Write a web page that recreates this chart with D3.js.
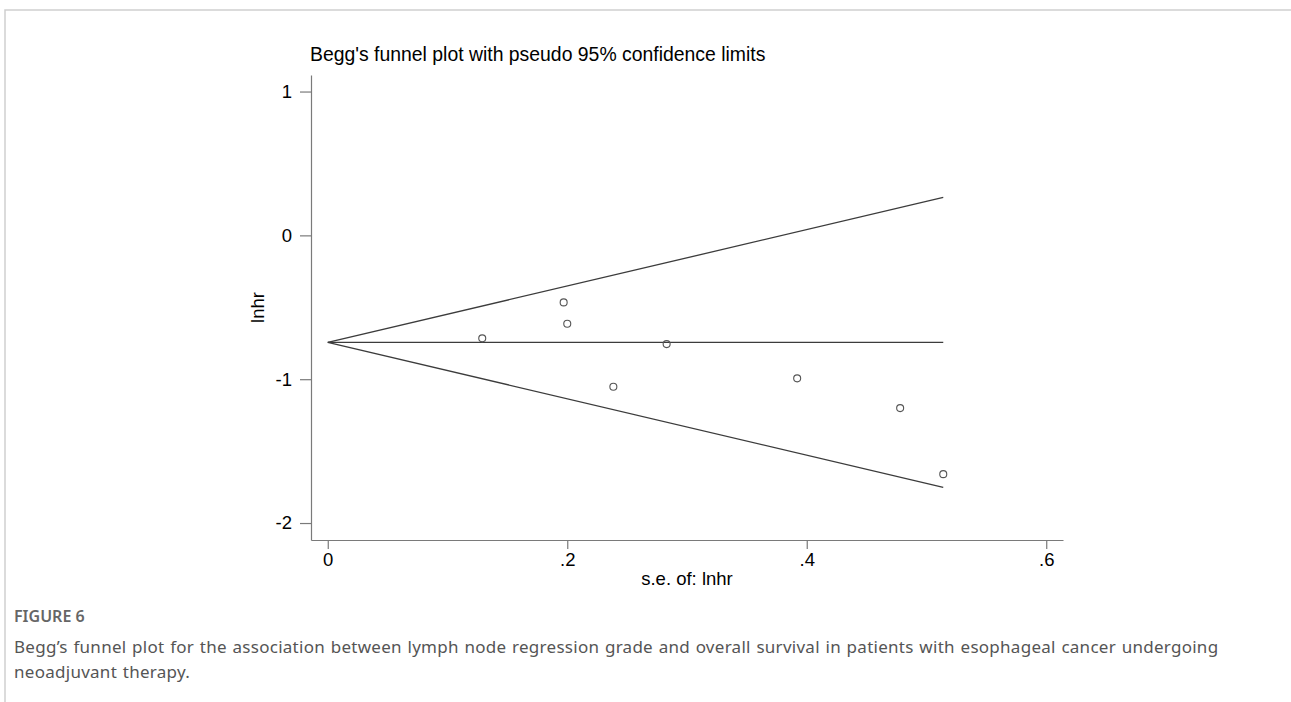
<!DOCTYPE html>
<html>

<head>
    <meta charset="UTF-8">
    <style>
        body {
            margin: 0;
            background: #fff;
        }

        .stata {
            font-family: "Liberation Sans", Arial, sans-serif;
            fill: #000;
        }

        .axis path,
        .axis line {
            stroke: #7a7a7a;
            stroke-width: 1.2px;
        }

        .caption {
            font-family: "Noto Sans", "Open Sans", sans-serif;
            fill: #555;
        }
    </style>
    <title>Begg's funnel plot</title>
</head>

<body>
    <svg></svg>
    <script src="https://d3js.org/d3.v7.min.js"></script>

    <script>
        let width = 1291, height = 702;

        // study-level estimates
        const seLnhr = [0.129, 0.197, 0.200, 0.2385, 0.283, 0.392, 0.478, 0.514];
        const lnhr = [-0.716, -0.466, -0.615, -1.053, -0.756, -0.994, -1.201, -1.660];

        // pooled estimate and funnel extent
        const pooled = -0.744;
        const maxSe = 0.514;

        const xTicks = [0, 0.2, 0.4, 0.6];
        const yTicks = [-2, -1, 0, 1];

        const titleText = "Begg's funnel plot with pseudo 95% confidence limits";
        const xLabel = "s.e. of: lnhr";
        const yLabel = "lnhr";
        const figLabel = "FIGURE 6";
        const captionLines = [
            "Begg\u2019s funnel plot for the association between lymph node regression grade and overall survival in patients with esophageal cancer undergoing",
            "neoadjuvant therapy."
        ];

        let svg = d3.select("svg")
            .attr("width", width)
            .attr("height", height);

        // page frame
        svg.append("path")
            .attr("d", "M5,702 V10 H1291")
            .attr("fill", "none")
            .attr("stroke", "#cfcfcf")
            .attr("stroke-width", 1.5);

        // scales
        const x = d3.scaleLinear()
            .domain([-0.014, 0.614])
            .range([311, 1063]);

        const y = d3.scaleLinear()
            .domain([-2.118, 1.115])
            .range([540, 75]);

        const chart = svg.append("g").attr("class", "stata");

        // axes
        const xAxis = d3.axisBottom(x)
            .tickValues(xTicks)
            .tickSize(9)
            .tickSizeOuter(0)
            .tickPadding(4)
            .tickFormat(d => d === 0 ? "0" : String(d).replace("0.", "."));

        const yAxis = d3.axisLeft(y)
            .tickValues(yTicks)
            .tickSize(11)
            .tickSizeOuter(0)
            .tickPadding(8)
            .tickFormat(d => String(d));

        chart.append("g")
            .attr("class", "axis")
            .attr("transform", "translate(0," + y.range()[0] + ")")
            .call(xAxis)
            .selectAll("text")
            .attr("font-family", "Liberation Sans, Arial, sans-serif")
            .attr("font-size", 18.5)
            .attr("fill", "#000");

        chart.append("g")
            .attr("class", "axis")
            .attr("transform", "translate(" + x.range()[0] + ",0)")
            .call(yAxis)
            .selectAll("text")
            .attr("font-family", "Liberation Sans, Arial, sans-serif")
            .attr("font-size", 18.5)
            .attr("fill", "#000");

        // funnel limits and pooled line
        const funnel = [
            [[0, pooled], [maxSe, pooled + 1.96 * maxSe]],
            [[0, pooled], [maxSe, pooled - 1.96 * maxSe]],
            [[0, pooled], [maxSe, pooled]]
        ];

        const line = d3.line()
            .x(d => x(d[0]))
            .y(d => y(d[1]));

        chart.append("g")
            .selectAll("path")
            .data(funnel)
            .enter()
            .append("path")
            .attr("d", line)
            .attr("fill", "none")
            .attr("stroke", "#3c3c3c")
            .attr("stroke-width", 1.3);

        // study points
        chart.append("g")
            .selectAll("circle")
            .data(d3.range(seLnhr.length))
            .enter()
            .append("circle")
            .attr("cx", i => x(seLnhr[i]))
            .attr("cy", i => y(lnhr[i]))
            .attr("r", 3.5)
            .attr("fill", "none")
            .attr("stroke", "#555")
            .attr("stroke-width", 1.1);

        // titles
        chart.append("text")
            .attr("x", 310)
            .attr("y", 61)
            .attr("font-size", 19.4)
            .text(titleText);

        chart.append("text")
            .attr("x", (x.range()[0] + x.range()[1]) / 2)
            .attr("y", 585)
            .attr("text-anchor", "middle")
            .attr("font-size", 18.5)
            .text(xLabel);

        chart.append("text")
            .attr("transform", "translate(264," + (y.range()[0] + y.range()[1]) / 2 + ") rotate(-90)")
            .attr("text-anchor", "middle")
            .attr("font-size", 18.5)
            .text(yLabel);

        // figure caption
        const cap = svg.append("g").attr("class", "caption");

        cap.append("text")
            .attr("x", 14)
            .attr("y", 622)
            .attr("font-size", 16)
            .attr("font-weight", 600)
            .attr("fill", "#666")
            .text(figLabel);

        cap.selectAll("text.line")
            .data(captionLines)
            .enter()
            .append("text")
            .attr("class", "line")
            .attr("x", 14)
            .attr("y", (d, i) => 653 + i * 25)
            .attr("font-size", 17)
            .attr("letter-spacing", 0.27)
            .attr("word-spacing", 1)
            .text(d => d);
    </script>
</body>

</html>
